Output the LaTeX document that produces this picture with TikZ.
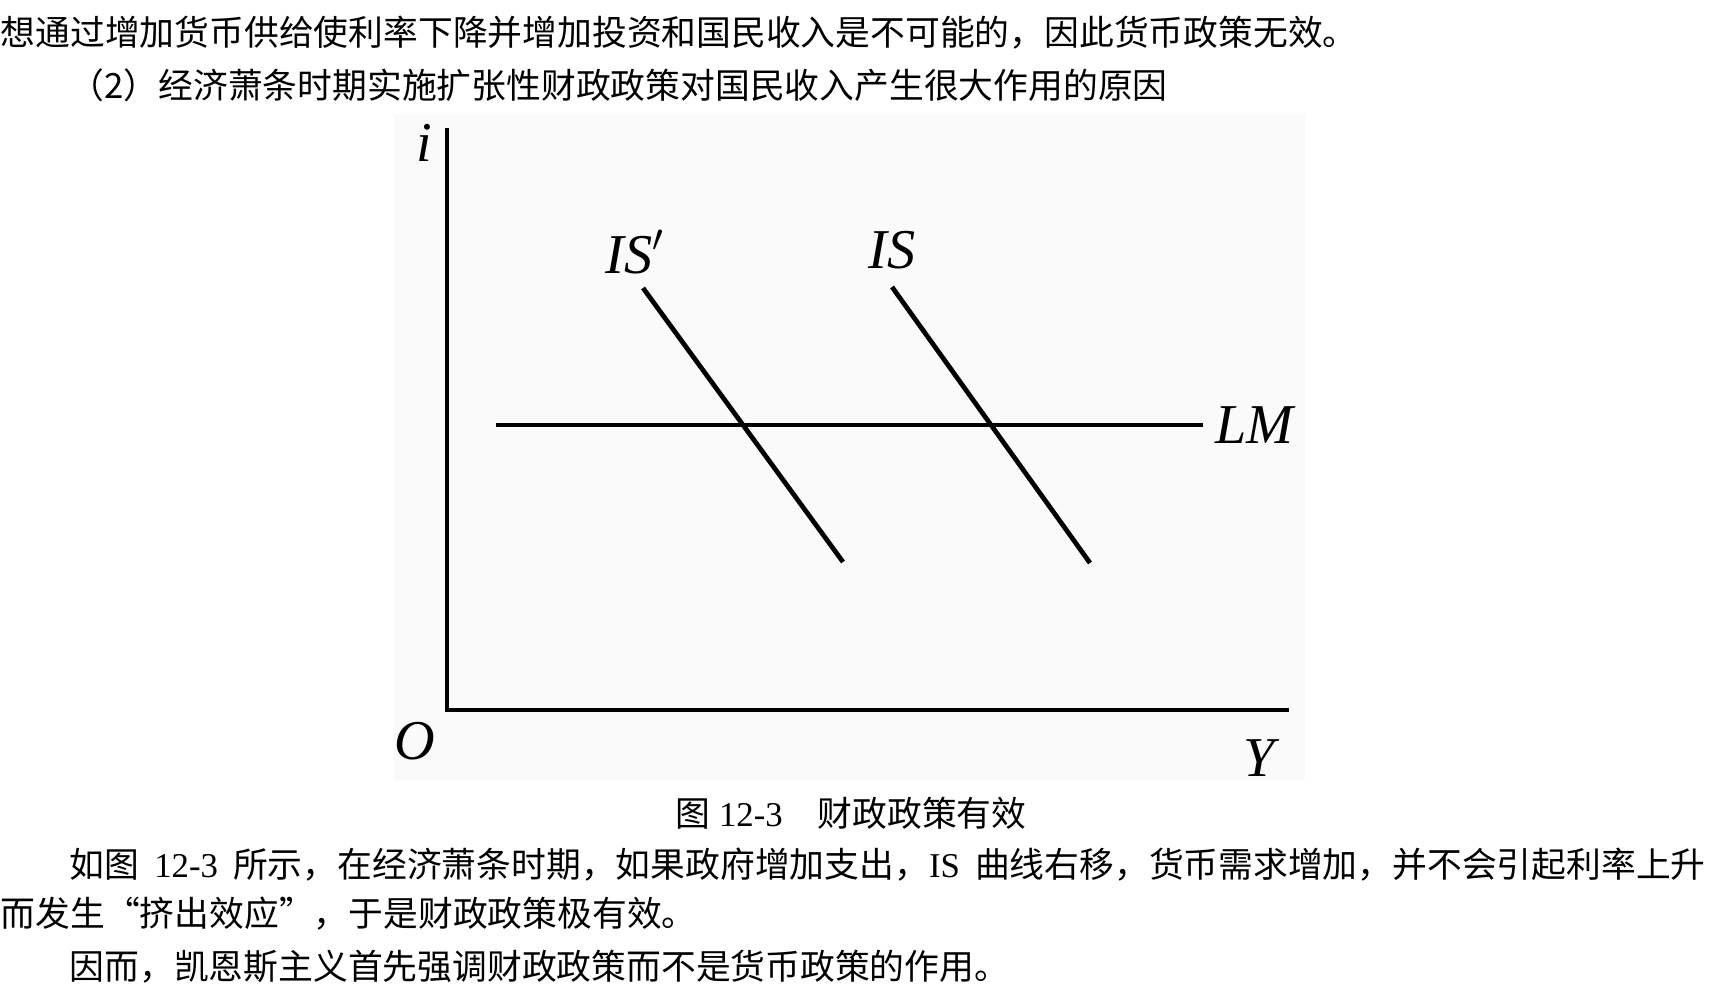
\documentclass[tikz,border=0pt]{standalone}
\usepackage{fontspec}
\setmainfont{Liberation Serif}
\newfontfamily\cjk{Noto Sans CJK SC}
\usepackage{tikz}
\usetikzlibrary{positioning}
\newcommand{\zhsize}{\fontsize{9.9}{12}\selectfont}
\newcommand{\lblsize}{\fontsize{16}{18}\selectfont}
\tikzset{
zhline/.style={anchor=west,inner sep=0pt,font=\zhsize},
zhcap/.style={inner sep=0pt,font=\zhsize},
plotbg/.style={fill=black!2,draw=none},
axisline/.style={line width=1.35pt},
curveline/.style={line width=1.35pt},
curvelab/.style={inner sep=0pt,font=\lblsize\itshape}
}

\begin{document}
\begin{tikzpicture}[
x=1cm,
y=1cm
]
\useasboundingbox (0,0) rectangle (17.27,-9.97);
% text above the figure
\node[zhline] (para1) at (0,-0.33) {\cjk 想通过增加货币供给使利率下降并增加投资和国民收入是不可能的，因此货币政策无效。};
\node[zhline] (para2) at (0.69,-0.85) {\cjk （2）经济萧条时期实施扩张性财政政策对国民收入产生很大作用的原因};
% plot area
\fill[plotbg] (3.94,-1.14) rectangle (13.05,-7.80);
\coordinate (ytop) at (4.47,-1.28);
\coordinate (orig) at (4.47,-7.10);
\coordinate (xend) at (12.89,-7.10);
\draw[axisline] (ytop) -- (orig) -- (xend);
\node[curvelab] (ilab) at (4.24,-1.43) {i};
\node[curvelab] (olab) at (4.15,-7.41) {O};
\node[curvelab] (ylab) at (12.59,-7.58) {Y};
% LM and the two IS curves
\coordinate (lmstart) at (4.96,-4.25);
\coordinate (lmend) at (12.03,-4.25);
\draw[curveline] (lmstart) -- (lmend);
\node[curvelab,right=0.12cm of lmend] (lmlab) {LM};
\coordinate (isntop) at (6.43,-2.88);
\coordinate (isnbot) at (8.43,-5.62);
\draw[curveline] (isntop) -- (isnbot);
\node[curvelab] (isnlab) at (6.35,-2.52) {IS$'$};
\coordinate (istop) at (8.92,-2.87);
\coordinate (isbot) at (10.90,-5.63);
\draw[curveline] (istop) -- (isbot);
\node[curvelab] (islab) at (8.92,-2.50) {IS};
% caption and text below
\node[zhcap] (cap) at (8.51,-8.13) {{\cjk 图} 12-3{\cjk 　财政政策有效}};
\node[zhline] (para3) at (0.69,-8.65) {\makebox[16.36cm][s]{{\cjk 如图} 12-3 {\cjk 所示，在经济萧条时期，如果政府增加支出，}IS {\cjk 曲线右移，货币需求增加，并不会引起利率上升}}};
\node[zhline] (para4) at (0,-9.14) {\cjk 而发生“挤出效应”，于是财政政策极有效。};
\node[zhline] (para5) at (0.69,-9.67) {\cjk 因而，凯恩斯主义首先强调财政政策而不是货币政策的作用。};
\end{tikzpicture}
\end{document}
